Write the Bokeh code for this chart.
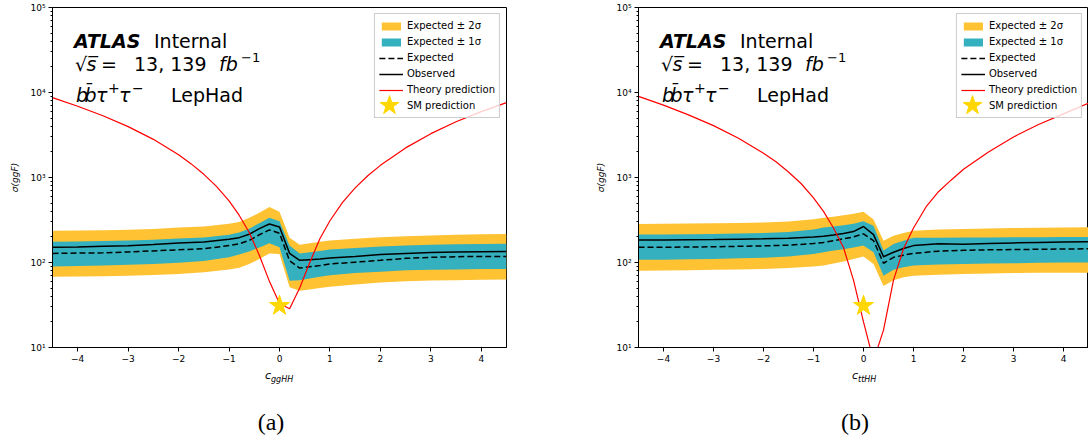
from bokeh.plotting import figure
from bokeh.layouts import row, column
from bokeh.models import Range1d, FixedTicker, Label, Legend, LegendItem, Div
from bokeh.embed import file_html
from bokeh.resources import INLINE

# ---------------- data ----------------
kappa = [-4.5, -4.0, -3.5, -3.0, -2.5, -2.0, -1.5, -1.0, -0.8, -0.6, -0.4, -0.2,
         0.0, 0.2, 0.4, 0.6, 0.8, 1.0, 1.5, 2.0, 2.5, 3.0, 3.5, 4.0, 4.5]

# panel (a): c_ggHH limits
gg_observed = [151, 152, 155, 157, 163, 170, 174, 188, 196, 215, 250, 284,
               262, 128, 106, 108, 110, 113, 118, 124, 128, 131, 133, 134, 135]
gg_expected = [128, 129, 130, 133, 137, 141, 145, 158, 166, 182, 212, 242,
               221, 105, 86, 89, 92, 96, 101, 106, 112, 115, 117, 118, 118]
gg_up2 = [237, 238, 240, 243, 248, 258, 265, 285, 300, 335, 385, 450,
          395, 195, 162, 168, 175, 182, 190, 198, 204, 208, 212, 215, 217]
gg_up1 = [176, 177, 179, 181, 185, 191, 197, 212, 225, 250, 290, 335,
          306, 158, 128, 132, 137, 142, 148, 154, 159, 162, 164, 165, 166]
gg_dn1 = [90, 91, 92, 94, 96, 99, 104, 115, 124, 135, 150, 168,
          151, 61, 62, 65, 68, 71, 75, 78, 81, 82, 83, 84, 84]
gg_dn2 = [68, 68.5, 69, 70, 71.5, 73, 77, 83, 87, 96, 110, 128,
          126, 51, 46.6, 48, 50, 52, 55, 58, 60, 61.5, 62, 62.5, 63]

# panel (b): c_ttHH limits
tt_observed = [184, 184, 185, 186, 188, 190, 193, 199, 203, 210, 220, 231,
               265, 213, 117, 132, 146, 158, 166, 164, 167, 170, 172, 174, 176]
tt_expected = [151, 151, 152, 153, 155, 157, 160, 167, 172, 180, 190, 200,
               217, 181, 98, 115, 122, 128, 136, 139, 141, 142, 143, 144, 145]
tt_up2 = [284, 285, 287, 289, 292, 296, 303, 322, 335, 345, 360, 375,
          395, 320, 180, 207, 222, 237, 245, 248, 251, 254, 256, 258, 260]
tt_up1 = [213, 214, 215, 217, 219, 222, 228, 245, 258, 265, 275, 285,
          305, 270, 138, 165, 180, 195, 196, 197, 197, 198, 198, 199, 199]
tt_dn1 = [108, 108, 109, 110, 112, 114, 118, 126, 132, 138, 143, 150,
          158, 132, 70, 82, 88, 92, 95, 96, 97, 98, 99, 100, 100]
tt_dn2 = [80, 80.5, 81, 82, 83, 84, 86, 90, 92, 97, 103, 110,
          118, 96, 53, 62, 67, 70, 72, 73, 74, 75, 75.5, 76, 76]

# theory predictions (finer sampling)
kappa_th = [-4.5, -4.0, -3.5, -3.0, -2.5, -2.0, -1.75, -1.5, -1.25, -1.0, -0.8,
            -0.6, -0.4, -0.2, 0.0, 0.2, 0.4, 0.6, 0.8, 1.0, 1.25, 1.5, 1.75,
            2.0, 2.5, 3.0, 3.5, 4.0, 4.5]
gg_theory = [8700, 6900, 5330, 3970, 2810, 1850, 1445, 1090, 785, 530, 360,
             225, 122, 60, 33, 28.5, 50, 100, 190, 310, 510, 755, 1050,
             1390, 2230, 3280, 4520, 5950, 7600]
tt_theory = [9000, 7100, 5450, 4080, 2900, 1930, 1530, 1160, 850, 575, 400,
             255, 150, 62, 20, 7, 16, 62, 145, 255, 450, 680, 930,
             1250, 2000, 3000, 4200, 5600, 7500]

sm_x = [0.0]
sm_y = [31.0]

x_ticks = [-4, -3, -2, -1, 0, 1, 2, 3, 4]
x_tick_labels = {-4: "\u22124", -3: "\u22123", -2: "\u22122", -1: "\u22121"}
y_ticks = [10, 100, 1000, 10000, 100000]
y_tick_labels = {10: "10\u00b9", 100: "10\u00b2", 1000: "10\u00b3",
                 10000: "10\u2074", 100000: "10\u2075"}

legend_labels = ["Expected \u00b1 2\u03c3", "Expected \u00b1 1\u03c3", "Expected",
                 "Observed", "Theory prediction", "SM prediction"]

ORANGE = "#fec233"
TEAL = "#35b0be"
GOLD = "#ffd700"
FONT = "DejaVu Sans"
FRAME_H = 340


def make_panel(obs, exp, up2, up1, dn1, dn2, theory, width, b_left, b_right):
    frame_w = width - b_left - b_right
    p = figure(width=width, height=370,
               x_range=Range1d(-4.5, 4.5), y_range=Range1d(10, 1e5),
               y_axis_type="log", output_backend="svg", toolbar_location=None,
               min_border_left=b_left, min_border_right=b_right,
               min_border_top=7, min_border_bottom=23)
    p.xgrid.visible = False
    p.ygrid.visible = False
    p.outline_line_color = "black"
    p.outline_line_width = 1
    p.outline_line_alpha = 1
    p.background_fill_color = "white"
    p.border_fill_color = "white"

    r2 = p.varea(x=kappa, y1=dn2, y2=up2, fill_color=ORANGE)
    r1 = p.varea(x=kappa, y1=dn1, y2=up1, fill_color=TEAL)
    re = p.line(kappa, exp, line_color="black", line_width=1.5, line_dash="6 3")
    ro = p.line(kappa, obs, line_color="black", line_width=1.5)
    rt = p.line(kappa_th, theory, line_color="#ff0000", line_width=1.2)
    rs = p.scatter(sm_x, sm_y, marker="star", size=21, fill_color=GOLD,
                   line_color=GOLD)

    for ax in (p.xaxis[0], p.yaxis[0]):
        ax.axis_line_color = "black"
        ax.major_tick_line_color = "black"
        ax.minor_tick_line_color = "black"
        ax.major_tick_out = 4
        ax.major_tick_in = 0
        ax.minor_tick_out = 2
        ax.minor_tick_in = 0
        ax.major_label_text_font = FONT
        ax.major_label_text_font_size = "9px"
        ax.major_label_text_color = "black"
        ax.major_label_standoff = 3
    p.xaxis.ticker = FixedTicker(ticks=x_ticks)
    p.xaxis.major_label_overrides = x_tick_labels
    p.xaxis.minor_tick_line_color = None
    p.yaxis.ticker = FixedTicker(
        ticks=y_ticks,
        minor_ticks=[m * t for t in y_ticks[:-1] for m in range(2, 10)])
    p.yaxis.major_label_overrides = y_tick_labels
    p.yaxis.axis_label = "\u03c3(ggF)"
    p.yaxis.axis_label_text_font = FONT
    p.yaxis.axis_label_text_font_style = "italic"
    p.yaxis.axis_label_text_font_size = "9px"
    p.yaxis.axis_label_text_color = "black"
    p.yaxis.axis_label_standoff = 7

    items = [LegendItem(label=legend_labels[0], renderers=[r2]),
             LegendItem(label=legend_labels[1], renderers=[r1]),
             LegendItem(label=legend_labels[2], renderers=[re]),
             LegendItem(label=legend_labels[3], renderers=[ro]),
             LegendItem(label=legend_labels[4], renderers=[rt]),
             LegendItem(label=legend_labels[5], renderers=[rs])]
    leg = Legend(items=items, location="top_right", margin=6, padding=4,
                 spacing=1, glyph_width=24, glyph_height=10, label_height=15,
                 label_standoff=4, label_text_font=FONT,
                 label_text_font_size="10px", label_text_color="black",
                 border_line_color="#cccccc", border_line_alpha=1,
                 background_fill_alpha=0.8)
    p.add_layout(leg)
    # large star symbol for the SM entry (matplotlib-sized legend marker)
    star_cx = frame_w - 117
    star_cy = FRAME_H - 97.5
    leg_star = Legend(items=[LegendItem(label=legend_labels[5], renderers=[rs])],
                      location=(star_cx - 25, star_cy - 25), margin=0, padding=0,
                      glyph_width=50, glyph_height=50, label_height=50,
                      label_standoff=0, label_text_alpha=0,
                      label_text_font_size="1px",
                      border_line_alpha=0, background_fill_alpha=0)
    p.add_layout(leg_star)

    def lab(text, dx, dy, size="19px", style="normal"):
        p.add_layout(Label(x=-4.5, y=1e5, x_offset=dx, y_offset=dy, text=text,
                           text_font=FONT, text_font_size=size,
                           text_font_style=style, text_color="black",
                           text_align="left", text_baseline="alphabetic"))
    lab("ATLAS", 21.5, -33.4, style="bold italic")
    lab("Internal", 101.5, -33.4)
    lab("\u221a", 22.5, -56.7)
    lab("s\u0305", 34, -56.7, style="italic")
    lab("=", 48.5, -56.7)
    lab("13, 139", 81.5, -56.7)
    lab("fb", 166.5, -56.7, style="italic")
    lab("\u22121", 188.5, -49.5, size="13px")
    lab("b", 23.5, -87.2, style="italic")
    lab("b\u0304", 32, -87.2, style="italic")
    lab("\u03c4", 43.5, -87.2, style="italic")
    lab("+", 55.5, -80, size="14px")
    lab("\u03c4", 66.5, -87.2, style="italic")
    lab("\u2212", 79.5, -80, size="14px")
    lab("LepHad", 118.5, -87.2)
    return p


def make_caption(width, c_left, sub, caption, cap_center):
    html = (
        '<div style="position:relative;width:%dpx;height:73px;">'
        '<span style="position:absolute;left:%dpx;top:0px;font-family:\'DejaVu Sans\';'
        'font-style:italic;font-size:11px;line-height:11px;color:#000;">c</span>'
        '<span style="position:absolute;left:%dpx;top:6px;font-family:\'DejaVu Sans\';'
        'font-style:italic;font-size:8px;line-height:8px;color:#000;">%s</span>'
        '<span style="position:absolute;left:%dpx;top:40px;width:100px;text-align:center;'
        'font-family:\'Liberation Serif\';font-size:24px;line-height:24px;color:#000;">%s</span>'
        '</div>'
    ) % (width, c_left, c_left + 6, sub, cap_center - 50, caption)
    return Div(text=html, width=width, height=73, margin=0)


pa = make_panel(gg_observed, gg_expected, gg_up2, gg_up1, gg_dn1, gg_dn2,
                gg_theory, 593, 52, 87)
pb = make_panel(tt_observed, tt_expected, tt_up2, tt_up1, tt_dn1, tt_dn2,
                tt_theory, 495, 44, 0)
da = make_caption(593, 265, "ggHH", "(a)", 271)
db = make_caption(495, 259, "ttHH", "(b)", 262)

layout = row(column(pa, da, spacing=0), column(pb, db, spacing=0), spacing=0)
open("out.html", "w").write(file_html(layout, INLINE))
